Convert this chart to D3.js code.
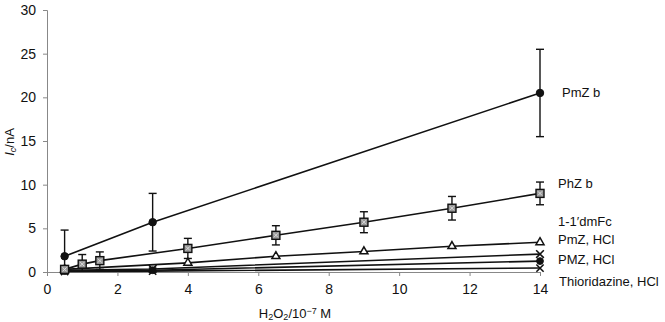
<!DOCTYPE html>
<html>
<head>
<meta charset="utf-8">
<script src="https://cdn.jsdelivr.net/npm/d3@7"></script>
<style>
  body { margin: 0; background: #fff; }
  text { font-family: "Liberation Sans", Arial, sans-serif; fill: #111; }
</style>
</head>
<body>
<div id="chart"></div>
<script>
// values
const xTicks = [0, 2, 4, 6, 8, 10, 12, 14];
const yTicks = [0, 5, 10, 15, 20, 25, 30];

const pmzB = [
  {x: 0.5, y: 1.8, err: 3.0},
  {x: 3, y: 5.7, err: 3.3},
  {x: 14, y: 20.5, err: 5.0}
];
const phzB = [
  {x: 0.5, y: 0.3, err: 0},
  {x: 1, y: 0.9, err: 1.1},
  {x: 1.5, y: 1.3, err: 1.0},
  {x: 4, y: 2.7, err: 1.15},
  {x: 6.5, y: 4.2, err: 1.1},
  {x: 9, y: 5.7, err: 1.2},
  {x: 11.5, y: 7.3, err: 1.35},
  {x: 14, y: 9.0, err: 1.3}
];
const pmzHcl = [
  {x: 0.5, y: 0.3}, {x: 4, y: 1.05}, {x: 6.5, y: 1.8},
  {x: 9, y: 2.35}, {x: 11.5, y: 2.95}, {x: 14, y: 3.4}
];
const pmzHcl2 = [{x: 0.5, y: 0.2}, {x: 3, y: 0.35}, {x: 14, y: 2.05}];
const dmfc = [{x: 0.5, y: 0.1}, {x: 3, y: 0.2}, {x: 14, y: 1.25}];
const thio = [{x: 0.5, y: 0.05}, {x: 3, y: 0.1}, {x: 14, y: 0.45}];

const labelNames = ["PmZ b", "PhZ b", "1-1\u2032dmFc", "PmZ, HCl", "PMZ, HCl", "Thioridazine, HCl"];
const labelAt = [20.6, 10.1, 5.8, 3.7, 1.4, -1.1];
const labelDx = [22, 18, 18, 18, 18, 19];

const width = 665, height = 322;
const svg = d3.select("#chart").append("svg")
  .attr("width", width)
  .attr("height", height);

const x = d3.scaleLinear().domain([0, 14]).range([47, 540]);
const y = d3.scaleLinear().domain([0, 30]).range([272, 10]);

// axes
const xAxis = svg.append("g")
  .attr("transform", `translate(0, ${y(0)})`)
  .call(d3.axisBottom(x).tickValues(xTicks).tickSize(4).tickPadding(8));
const yAxis = svg.append("g")
  .attr("transform", `translate(${x(0)}, 0)`)
  .call(d3.axisLeft(y).tickValues(yTicks).tickSize(4).tickPadding(7));

[xAxis, yAxis].forEach(function(a) {
  a.select(".domain").attr("stroke", "#888").attr("stroke-width", 1);
  a.selectAll(".tick line").attr("stroke", "#888");
  a.selectAll(".tick text").style("font-size", "14px").attr("fill", "#111");
});

const line = d3.line()
  .x(function(d) { return x(d.x); })
  .y(function(d) { return y(d.y); });

const allSeries = [thio, dmfc, pmzHcl2, pmzHcl, phzB, pmzB];
allSeries.forEach(function(s) {
  svg.append("path")
    .datum(s)
    .attr("d", line)
    .attr("fill", "none")
    .attr("stroke", "#111")
    .attr("stroke-width", 1.6);
});

// error bars
function errorBars(data) {
  data.filter(function(d) { return d.err > 0; }).forEach(function(d) {
    const lo = Math.max(0, d.y - d.err), hi = d.y + d.err;
    const g = svg.append("g").attr("stroke", "#111").attr("stroke-width", 1.4);
    g.append("line").attr("x1", x(d.x)).attr("x2", x(d.x)).attr("y1", y(lo)).attr("y2", y(hi));
    g.append("line").attr("x1", x(d.x) - 4).attr("x2", x(d.x) + 4).attr("y1", y(hi)).attr("y2", y(hi));
    if (d.y - d.err > 0) {
      g.append("line").attr("x1", x(d.x) - 4).attr("x2", x(d.x) + 4).attr("y1", y(lo)).attr("y2", y(lo));
    }
  });
}
errorBars(pmzB);
errorBars(phzB);

// markers
function symbols(data, type, size, fill, sw) {
  svg.selectAll(null)
    .data(data)
    .enter()
    .append("path")
    .attr("d", d3.symbol().type(type).size(size))
    .attr("transform", function(d) { return `translate(${x(d.x)}, ${y(d.y)})`; })
    .attr("fill", fill)
    .attr("stroke", "#111")
    .attr("stroke-width", sw);
}

symbols(thio, d3.symbolTimes, 36, "none", 1.6);
symbols(dmfc, d3.symbolCircle, 36, "#111", 1);
symbols(pmzHcl2, d3.symbolTimes, 40, "none", 1.6);
symbols(pmzHcl, d3.symbolTriangle, 28, "#fff", 1.5);
symbols(pmzB, d3.symbolCircle, 44, "#111", 1);

// square with a cross for PhZ b
const sq = svg.selectAll(null)
  .data(phzB)
  .enter()
  .append("g")
  .attr("transform", function(d) { return `translate(${x(d.x)}, ${y(d.y)})`; });
sq.append("rect")
  .attr("x", -4).attr("y", -4).attr("width", 8).attr("height", 8)
  .attr("fill", "#999").attr("stroke", "#111").attr("stroke-width", 1.4);
sq.append("path")
  .attr("d", "M-2,-2L2,2M-2,2L2,-2")
  .attr("stroke", "#ddd").attr("stroke-width", 1);

// series labels
svg.selectAll(null)
  .data(labelNames)
  .enter()
  .append("text")
  .attr("x", function(d, i) { return x(14) + labelDx[i]; })
  .attr("y", function(d, i) { return y(labelAt[i]); })
  .attr("dy", "0.35em")
  .style("font-size", "13px")
  .text(function(d) { return d; });

// axis titles
const xt = svg.append("text")
  .attr("x", 295)
  .attr("y", 318)
  .attr("text-anchor", "middle")
  .style("font-size", "13px");
xt.append("tspan").text("H");
xt.append("tspan").attr("baseline-shift", "-25%").style("font-size", "9px").text("2");
xt.append("tspan").text("O");
xt.append("tspan").attr("baseline-shift", "-25%").style("font-size", "9px").text("2");
xt.append("tspan").text("/10");
xt.append("tspan").attr("baseline-shift", "40%").style("font-size", "9px").text("\u22127");
xt.append("tspan").text(" M");

const yt = svg.append("text")
  .attr("transform", "translate(14, 142) rotate(-90)")
  .attr("text-anchor", "middle")
  .style("font-size", "13px");
yt.append("tspan").style("font-style", "italic").text("I");
yt.append("tspan").attr("baseline-shift", "-25%").style("font-size", "9px").style("font-style", "italic").text("c");
yt.append("tspan").text("/nA");
</script>
</body>
</html>
